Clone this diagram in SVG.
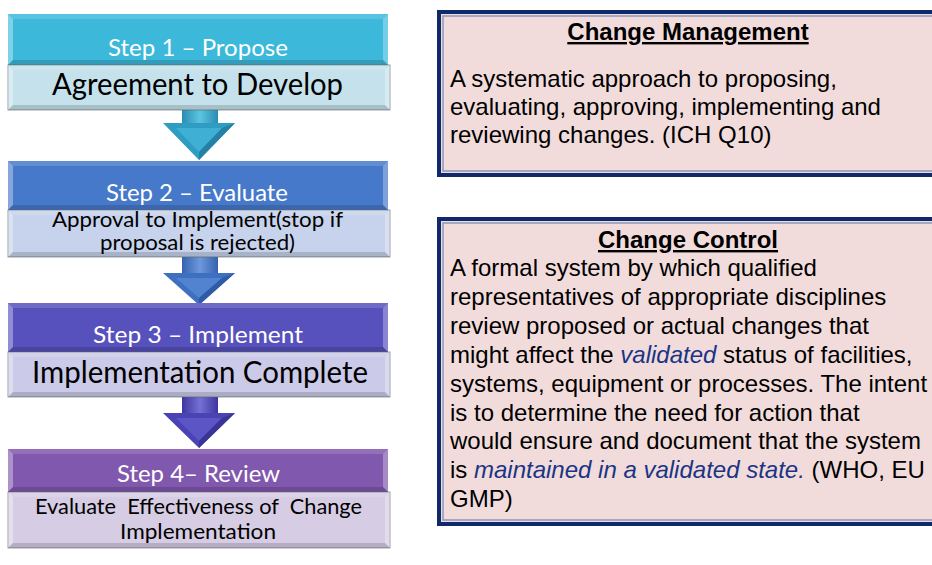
<svg xmlns="http://www.w3.org/2000/svg" width="932" height="565" viewBox="0 0 932 565">
<style>
.hl{fill:#ffffff;fill-opacity:0.35}
.ht{fill:#ffffff;fill-opacity:0.15}
.hr{fill:#ffffff;fill-opacity:0.3}
.hb{fill:#000000;fill-opacity:0.15}
.sub{stroke:#5a6068;stroke-opacity:0.6;stroke-width:1}
.hd{font-family:Lato,"Open Sans","Liberation Sans",sans-serif;fill:#ffffff;font-size:23px}
.st{font-family:Lato,"Open Sans","Liberation Sans",sans-serif;fill:#000000}
.box{fill:#f2dcdb;stroke:#0f2a6b;stroke-width:4}
.inner{fill:none;stroke:#8a96bc;stroke-width:1.5}
.tt{font-family:"Liberation Sans",Arial,sans-serif;font-weight:bold;font-size:24px;text-decoration:underline;fill:#000;text-anchor:middle}
.bd{font-family:"Liberation Sans",Arial,sans-serif;font-size:24px;fill:#000}
.it{font-style:italic;fill:#1a3585}
</style>
<defs>
<linearGradient id="sh1" x1="0" y1="0" x2="1" y2="0"><stop offset="0" stop-color="#2a8db2"/><stop offset="0.5" stop-color="#5cc4e0"/><stop offset="1" stop-color="#2a8db2"/></linearGradient>
<linearGradient id="sh2" x1="0" y1="0" x2="1" y2="0"><stop offset="0" stop-color="#3562b0"/><stop offset="0.5" stop-color="#6e98db"/><stop offset="1" stop-color="#3562b0"/></linearGradient>
<linearGradient id="sh3" x1="0" y1="0" x2="1" y2="0"><stop offset="0" stop-color="#3d36a0"/><stop offset="0.5" stop-color="#7470d4"/><stop offset="1" stop-color="#3d36a0"/></linearGradient>
</defs>
<rect width="932" height="565" fill="#ffffff"/>
<g id="connectors">
<g id="arrow1">
<rect x="182" y="108" width="36" height="16" fill="url(#sh1)"/>
<polygon points="163,123 235,123 199,160" fill="#2f9cc2"/>
<polygon points="176,128 222,128 199,152" fill="#3fb0d4"/>
<polygon points="199,152 222,128 235,123 199,160" fill="#2580a6"/>
</g>
<g id="arrow2">
<rect x="182" y="255" width="36" height="19" fill="url(#sh2)"/>
<polygon points="163,273 235,273 199,305" fill="#3f6fc0"/>
<polygon points="176,278 222,278 199,298" fill="#5283d0"/>
<polygon points="199,298 222,278 235,273 199,305" fill="#2f5aa6"/>
</g>
<g id="arrow3">
<rect x="182" y="395" width="36" height="19" fill="url(#sh3)"/>
<polygon points="163,413 235,413 199,448" fill="#4a43b4"/>
<polygon points="176,418 222,418 199,441" fill="#5c55c6"/>
<polygon points="199,441 222,418 235,413 199,448" fill="#3a3398"/>
</g>
</g>
<g id="step1">
<rect x="8" y="14" width="380" height="51" fill="#3bb8da"/>
<polygon class="hl" points="8,14 13,19 13,60 8,65"/>
<polygon class="ht" points="8,14 388,14 383,19 13,19"/>
<polygon class="hr" points="388,14 388,65 383,60 383,19"/>
<polygon class="hb" points="8,65 13,60 383,60 388,65"/>
<text class="hd" x="108" y="56" textLength="180" lengthAdjust="spacingAndGlyphs">Step 1 – Propose</text>
<rect class="sub" x="8" y="65" width="382" height="45" fill="#c5e2ec"/>
<polygon class="hl" points="8,65 13,70 13,105 8,110"/>
<polygon class="ht" points="8,65 390,65 385,70 13,70"/>
<polygon class="hr" points="390,65 390,110 385,105 385,70"/>
<polygon class="hb" points="8,110 13,105 385,105 390,110"/>
<text class="st" x="52" y="95" font-size="30" textLength="291" lengthAdjust="spacingAndGlyphs">Agreement to Develop</text>
</g>
<g id="step2">
<rect x="8" y="161" width="380" height="49" fill="#4779ca"/>
<polygon class="hl" points="8,161 13,166 13,205 8,210"/>
<polygon class="ht" points="8,161 388,161 383,166 13,166"/>
<polygon class="hr" points="388,161 388,210 383,205 383,166"/>
<polygon class="hb" points="8,210 13,205 383,205 388,210"/>
<text class="hd" x="106" y="201" textLength="182" lengthAdjust="spacingAndGlyphs">Step 2 – Evaluate</text>
<rect class="sub" x="8" y="210" width="382" height="47" fill="#c7d3ec"/>
<polygon class="hl" points="8,210 13,215 13,252 8,257"/>
<polygon class="ht" points="8,210 390,210 385,215 13,215"/>
<polygon class="hr" points="390,210 390,257 385,252 385,215"/>
<polygon class="hb" points="8,257 13,252 385,252 390,257"/>
<text class="st" x="52" y="227" font-size="21" textLength="291" lengthAdjust="spacingAndGlyphs">Approval to Implement(stop if</text>
<text class="st" x="100" y="250" font-size="21" textLength="195" lengthAdjust="spacingAndGlyphs">proposal is rejected)</text>
</g>
<g id="step3">
<rect x="8" y="303" width="380" height="49" fill="#5751be"/>
<polygon class="hl" points="8,303 13,308 13,347 8,352"/>
<polygon class="ht" points="8,303 388,303 383,308 13,308"/>
<polygon class="hr" points="388,303 388,352 383,347 383,308"/>
<polygon class="hb" points="8,352 13,347 383,347 388,352"/>
<text class="hd" x="93" y="343" textLength="210" lengthAdjust="spacingAndGlyphs">Step 3 – Implement</text>
<rect class="sub" x="8" y="352" width="382" height="45" fill="#cbcae8"/>
<polygon class="hl" points="8,352 13,357 13,392 8,397"/>
<polygon class="ht" points="8,352 390,352 385,357 13,357"/>
<polygon class="hr" points="390,352 390,397 385,392 385,357"/>
<polygon class="hb" points="8,397 13,392 385,392 390,397"/>
<text class="st" x="32" y="383" font-size="30" textLength="336" lengthAdjust="spacingAndGlyphs">Implementation Complete</text>
</g>
<g id="step4">
<rect x="8" y="449" width="380" height="43" fill="#8058ad"/>
<polygon class="hl" points="8,449 13,454 13,487 8,492"/>
<polygon class="ht" points="8,449 388,449 383,454 13,454"/>
<polygon class="hr" points="388,449 388,492 383,487 383,454"/>
<polygon class="hb" points="8,492 13,487 383,487 388,492"/>
<text class="hd" x="117" y="482" textLength="163" lengthAdjust="spacingAndGlyphs">Step 4– Review</text>
<rect class="sub" x="8" y="492" width="382" height="56" fill="#d6cce4"/>
<polygon class="hl" points="8,492 13,497 13,543 8,548"/>
<polygon class="ht" points="8,492 390,492 385,497 13,497"/>
<polygon class="hr" points="390,492 390,548 385,543 385,497"/>
<polygon class="hb" points="8,548 13,543 385,543 390,548"/>
<text class="st" x="35" y="514" font-size="21" textLength="327" lengthAdjust="spacingAndGlyphs" xml:space="preserve">Evaluate  Effectiveness of  Change</text>
<text class="st" x="120" y="539" font-size="21" textLength="156" lengthAdjust="spacingAndGlyphs">Implementation</text>
</g>
<g id="change-management">
<rect class="box" x="439" y="12" width="500" height="163"/>
<rect class="inner" x="443" y="16" width="500" height="155"/>
<text class="tt" x="688" y="40">Change Management</text>
<text class="bd" x="450" y="87">A systematic approach to proposing,</text>
<text class="bd" x="450" y="115">evaluating, approving, implementing and</text>
<text class="bd" x="450" y="143">reviewing changes. (ICH Q10)</text>
</g>
<g id="change-control">
<rect class="box" x="439" y="219" width="500" height="305"/>
<rect class="inner" x="443" y="223" width="500" height="297"/>
<text class="tt" x="688" y="248">Change Control</text>
<text class="bd" x="450" y="276">A formal system by which qualified</text>
<text class="bd" x="450" y="305">representatives of appropriate disciplines</text>
<text class="bd" x="450" y="334">review proposed or actual changes that</text>
<text class="bd" x="450" y="363">might affect the <tspan class="it">validated</tspan> status of facilities,</text>
<text class="bd" x="450" y="392">systems, equipment or processes. The intent</text>
<text class="bd" x="450" y="421">is to determine the need for action that</text>
<text class="bd" x="450" y="449">would ensure and document that the system</text>
<text class="bd" x="450" y="478">is <tspan class="it">maintained in a validated state.</tspan> (WHO, EU</text>
<text class="bd" x="450" y="507">GMP)</text>
</g>
</svg>
